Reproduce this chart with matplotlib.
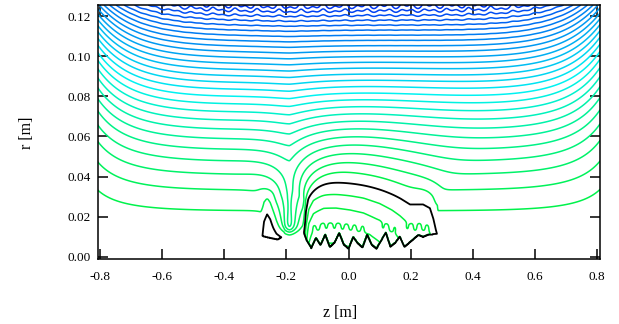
import numpy as np
import matplotlib
matplotlib.use("Agg")
import matplotlib.pyplot as plt
from matplotlib.colors import hsv_to_rgb

plt.rcParams["font.family"] = ["Liberation Serif", "DejaVu Serif"]
plt.rcParams["axes.unicode_minus"] = False

# axis ticks
z_ticks = [-0.8, -0.6, -0.4, -0.2, 0.0, 0.2, 0.4, 0.6, 0.8]
r_ticks = [0.00, 0.02, 0.04, 0.06, 0.08, 0.10, 0.12]

R_TOP = 0.1255            # top boundary [m]
Z_EDGE = 0.8075           # plotted end of the domain [m]
WALL_LEN = 0.125          # how far the end walls pull the lines up [m]
WALL_LOW = [0.46, 0.68]   # stream function factor at the ends, bottom / top

# height of the zero streamline (black line)
zero_z = [-0.285, -0.278, -0.272, -0.262, -0.252, -0.242, -0.232, -0.218, -0.208, -0.203,
          -0.149, -0.143, -0.137, -0.128, -0.113, -0.080, -0.040, 0.005, 0.048, 0.100,
          0.140, 0.166, 0.198, 0.240, 0.262, 0.273, 0.281, 0.286, 0.289]
zero_r = [0.0, 0.011, 0.019, 0.0236, 0.022, 0.018, 0.0145, 0.0132, 0.0125, 0.0,
          0.0, 0.016, 0.028, 0.034, 0.0366, 0.0378, 0.0378, 0.0372, 0.0363, 0.0342,
          0.0318, 0.0298, 0.0268, 0.0268, 0.025, 0.020, 0.0150, 0.0125, 0.0]

# ragged lower edge of the recirculation zones near the axis
bot_z = [-0.287, -0.282, -0.262, -0.245, -0.228, -0.214, -0.206, -0.203,
         -0.150, -0.147, -0.135, -0.120, -0.105, -0.090, -0.075, -0.060, -0.045, -0.030,
         -0.015, 0.000, 0.015, 0.030, 0.045, 0.060, 0.075, 0.090, 0.105, 0.120, 0.135,
         0.150, 0.165, 0.180, 0.195, 0.210, 0.225, 0.240, 0.255, 0.270, 0.280, 0.290, 0.292]
bot_r = [0.0, 0.0105, 0.0098, 0.0092, 0.0086, 0.0098, 0.0112, 0.0,
         0.0, 0.0132, 0.0085, 0.0045, 0.0095, 0.0060, 0.0112, 0.0050, 0.0072, 0.0120,
         0.0062, 0.0042, 0.0100, 0.0068, 0.0048, 0.0112, 0.0060, 0.0042, 0.0082, 0.0122,
         0.0052, 0.0070, 0.0102, 0.0050, 0.0070, 0.0090, 0.0110, 0.0100, 0.0110, 0.0112,
         0.0115, 0.0115, 0.0]

# downward jet at z = -0.19
jet_z = -0.19
jet_amp = [0.20, 0.045]       # near-axis and far parts
jet_decay = [0.028, 0.05]
jet_floor = 0.013

# contour levels of the normalised stream function, 0 is drawn black
psi_step = 0.0365
level_idx = np.arange(-4, 28)

# line colour (hue in degrees) against stream function
hue_psi = [0.0, 0.2, 0.4, 0.6, 0.8, 1.0]
hue_deg = [135, 155, 180, 198, 212, 228]


# build the field
z = np.linspace(-0.81, 0.81, 1621)
r = np.linspace(0, R_TOP, 503)
Z, RR = np.meshgrid(z, r)
s2 = (RR / R_TOP) ** 2

w_end = WALL_LOW[0] + (WALL_LOW[1] - WALL_LOW[0]) * s2
W = 1 - (1 - w_end) * np.exp(-(Z_EDGE - np.abs(Z)) / WALL_LEN)
psi = s2 * W + 0.003

# recirculation zones, spreading out with height
rho = 0.06
h = np.interp(z, zero_z, zero_r, left=0, right=0)
a = (h / R_TOP) ** 2 * np.exp(h / rho)
n = len(z)
A = np.fft.rfft(a, 2 * n)
kk = 2 * np.pi * np.fft.rfftfreq(2 * n, d=z[1] - z[0])
sig = np.clip(r - 0.028, 0, None) * 3.5
a_rows = np.array([np.fft.irfft(A * np.exp(-0.5 * (sg * kk) ** 2), 2 * n)[:n] for sg in sig])
psi -= a_rows * np.exp(-RR / rho)

# the jet: rounded at the axis, V shaped higher up
jw = 0.01 + 1.1 * RR
jp = 1.3 + 0.7 * np.exp(-RR / 0.015)
jamp = (jet_amp[0] * np.exp(-RR / jet_decay[0]) + jet_amp[1] * np.exp(-RR / jet_decay[1])) \
    / (1 + np.exp(-(RR - jet_floor) / 0.0012))
psi += jamp * np.exp(-(np.abs(Z - jet_z) / jw) ** jp)

# small eddies inside the big zone
blob = ((h > 0.02) & (z > -0.12)).astype(float)
psi += 0.009 * np.sin(2 * np.pi * Z / 0.026) * np.exp(-((RR - 0.0145) / 0.002) ** 2) * blob

# wobble along the top boundary
taper = np.exp(-(Z / 0.62) ** 8)
psi += 0.03 * np.sin(2 * np.pi * Z / 0.047) * np.cos(2 * np.pi * Z / 0.15) \
    * np.exp(-(R_TOP - RR) / 0.004) * taper

rb = np.interp(z, bot_z, bot_r, left=0, right=0)
psi = np.where(RR < rb[None, :], 0.02, psi)

# levels and colours
vals = level_idx * psi_step
green_vals = vals[level_idx != 0]
hues = np.interp(np.clip(green_vals, 0, None), hue_psi, hue_deg) / 360.0
colors = [hsv_to_rgb((hh, 1.0, 0.95)) for hh in hues]

fig = plt.figure(figsize=(6.19, 3.24), dpi=100)
ax = fig.add_axes([97.7 / 619, 1 - 258.5 / 324, 501.8 / 619, 253.5 / 324])

ax.contour(Z, RR, psi, levels=green_vals, colors=colors, linewidths=1.1)
ax.contour(Z, RR, psi, levels=[0.0], colors="k", linewidths=1.3, zorder=3)

ax.set_xlim(-0.8075, 0.808)
ax.set_ylim(-0.0008, R_TOP)
ax.set_xticks(z_ticks)
ax.set_xticklabels([f"{t:.1f}" for t in z_ticks])
ax.set_yticks(r_ticks)
ax.set_yticklabels([f"{t:.2f}" for t in r_ticks])
ax.tick_params(direction="in", top=True, right=True, length=7, width=1.1, labelsize=9.5)
ax.tick_params(axis="x", pad=9)
ax.tick_params(axis="y", pad=5)
for sp in ax.spines.values():
    sp.set_linewidth(1.1)

fig.text(340 / 619, 1 - 313 / 324, "z [m]", ha="center", va="center", fontsize=11.5)
fig.text(27 / 619, 1 - 133 / 324, "r [m]", ha="center", va="center", rotation=90, fontsize=11.5)

fig.savefig("out.png", dpi=100)
